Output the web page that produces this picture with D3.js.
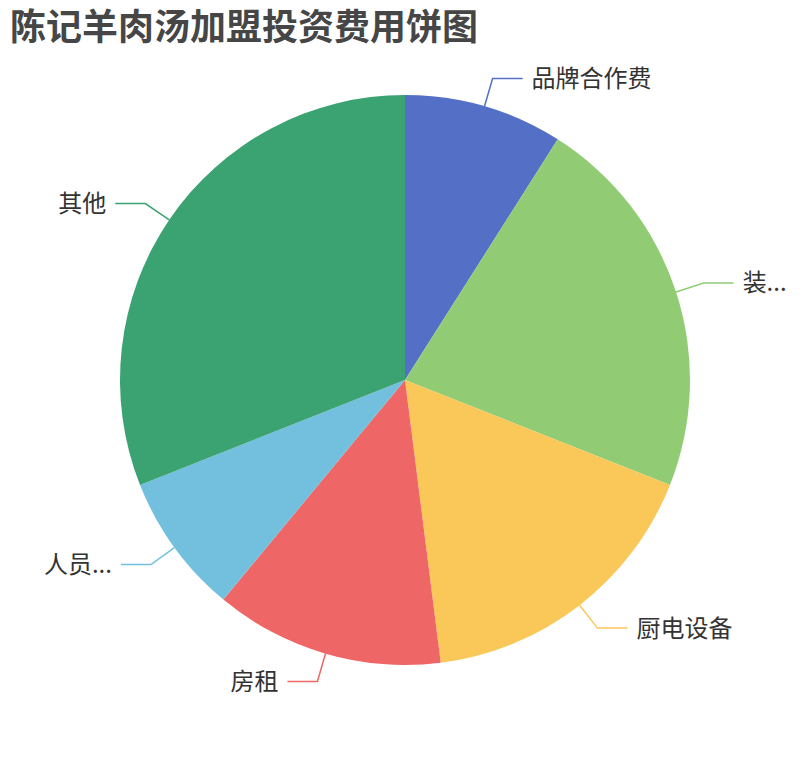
<!DOCTYPE html>
<html>
<head>
<meta charset="utf-8">
<script src="https://cdn.jsdelivr.net/npm/d3@7"></script>
<style>
  html, body { margin: 0; padding: 0; background: #fff; }
  svg text { font-family: "Noto Sans CJK SC", "Noto Sans", sans-serif; }
</style>
</head>
<body>
<svg id="chart" width="810" height="760"></svg>
<script>
// Data (万元)
const categories = ["品牌合作费", "装修费用", "厨电设备", "房租", "人员工资", "其他"];
const values = [9, 22, 17, 13, 8, 31];
const colors = ["#5470c6", "#91cc75", "#fac858", "#ee6666", "#73c0de", "#3ba272"];

const width = 810, height = 760;
const cx = width / 2, cy = height / 2;
const radius = Math.min(width, height) / 2 * 0.75;
const len1 = 29, len2 = 30, gap = 9; // label line segments
const edge = 22; // keep labels inside the canvas

const svg = d3.select("#chart");

svg.append("text")
    .attr("x", 10)
    .attr("y", 40)
    .attr("font-size", 36)
    .attr("font-weight", "bold")
    .attr("fill", "#464646")
    .text("陈记羊肉汤加盟投资费用饼图");

const data = categories.map((name, i) => ({ name: name, value: values[i], color: colors[i] }));

const pie = d3.pie().value(d => d.value).sort(null);
const arc = d3.arc().innerRadius(0).outerRadius(radius);
const arcs = pie(data);

const g = svg.append("g").attr("transform", `translate(${cx},${cy})`);

g.selectAll("path.slice")
    .data(arcs)
    .enter()
    .append("path")
    .attr("class", "slice")
    .attr("d", arc)
    .attr("fill", d => d.data.color);

// Label lines + labels
arcs.forEach(d => {
    const mid = (d.startAngle + d.endAngle) / 2;
    const sx = Math.sin(mid), sy = -Math.cos(mid);
    const p1 = [radius * sx, radius * sy];
    const p2 = [(radius + len1) * sx, (radius + len1) * sy];
    const right = sx >= 0;
    const p3 = [p2[0] + (right ? len2 : -len2), p2[1]];

    g.append("polyline")
        .attr("points", [p1, p2, p3].map(p => p.join(",")).join(" "))
        .attr("fill", "none")
        .attr("stroke", d.data.color)
        .attr("stroke-width", 1.5);

    const lx = p3[0] + (right ? gap : -gap);
    const label = g.append("text")
        .attr("x", lx)
        .attr("y", p3[1])
        .attr("dy", "0.35em")
        .attr("font-size", 24)
        .attr("fill", "#333")
        .attr("text-anchor", right ? "start" : "end")
        .text(d.data.name);

    // truncate with "..." if the label runs past the canvas edge
    const room = right ? (width - edge) - (cx + lx) : (cx + lx) - edge;
    let txt = d.data.name;
    while (label.node().getComputedTextLength() > room && txt.length > 1) {
        txt = txt.slice(0, -1);
        label.text(txt + "...");
    }
});
</script>
</body>
</html>
